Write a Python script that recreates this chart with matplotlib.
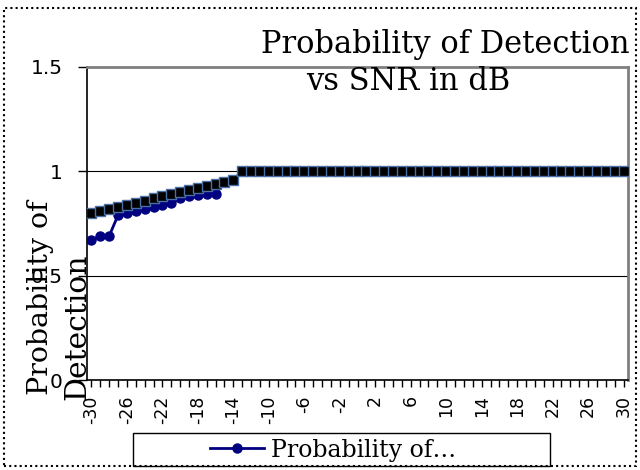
import numpy as np
import matplotlib
matplotlib.use("Agg")
import matplotlib.pyplot as plt
from matplotlib.patches import Rectangle

# ---------- data ----------
snr_db = list(range(-30, 31))
tick_labels = [str(v) for v in range(-30, 31, 4)]

pd_measured = [0.67, 0.69, 0.69, 0.79, 0.80, 0.81, 0.82, 0.83, 0.84, 0.85,
               0.87, 0.88, 0.885, 0.89, 0.89, 0.95, 0.96] + [1.0] * 44
pd_theory = [0.80, 0.81, 0.82, 0.83, 0.84, 0.85, 0.86, 0.87, 0.88, 0.89,
             0.90, 0.91, 0.92, 0.93, 0.94, 0.95, 0.96] + [1.0] * 44

serif = "DejaVu Serif"
sans = "DejaVu Sans"
W, H = 640, 470

fig = plt.figure(figsize=(6.4, 4.7), dpi=100)
ax = fig.add_axes([87 / W, 1 - 380 / H, (628 - 87) / W, (380 - 67) / H])

x = np.arange(len(snr_db))
ax.plot(x, pd_measured, color="#000080", lw=2, marker="o", ms=6.5,
        label="Probability of…", zorder=3)
ax.plot(x, pd_theory, color="#000080", lw=1.5, marker="s", ms=7,
        markerfacecolor="black", markeredgecolor="#4a6fa5", mew=1,
        zorder=4)

ax.set_xlim(-0.5, len(snr_db) - 0.5)
ax.set_ylim(0, 1.5)
ax.set_yticks([0, 0.5, 1, 1.5])
ax.set_yticklabels(["0", "0.5", "1", "1.5"], fontfamily=sans, fontsize=14.5)
ax.set_xticks(x[::4])
ax.set_xticklabels(tick_labels, rotation=90, fontfamily=sans, fontsize=12.5)
ax.set_xticks(x, minor=True)
ax.tick_params(axis="x", which="both", direction="out", length=5, width=1,
               pad=6)
ax.tick_params(axis="y", direction="out", length=6.5, width=1, pad=11)

ax.yaxis.grid(True, color="black", lw=0.8)
ax.set_axisbelow(True)
for side in ["top", "right"]:
    ax.spines[side].set_color("#808080")
    ax.spines[side].set_linewidth(2)
ax.spines["left"].set_linewidth(1.2)
ax.spines["bottom"].set_linewidth(1.2)

# axis title, two lines, bottom aligned like the original
fig.text(41 / W, 1 - 395 / H, "Probability of", fontfamily=serif,
         fontsize=20.5, rotation=90, ha="center", va="bottom")
fig.text(77 / W, 1 - 400 / H, "Detection", fontfamily=serif,
         fontsize=21.5, rotation=90, ha="center", va="bottom")

fig.text(445 / W, 1 - 45 / H, "Probability of Detection", fontfamily=serif,
         fontsize=22, ha="center", va="center")
fig.text(408 / W, 1 - 82 / H, "vs SNR in dB", fontfamily=serif,
         fontsize=22, ha="center", va="center")

leg = fig.legend(loc="center", bbox_to_anchor=(333 / W, 1 - 450 / H),
                 prop={"family": serif, "size": 17}, frameon=False,
                 handlelength=2.3, handletextpad=0.3, borderaxespad=0)
fig.patches.append(Rectangle((133 / W, 1 - 466 / H), (550 - 133) / W,
                             (466 - 433) / H, transform=fig.transFigure,
                             fill=False, lw=1, ec="black"))

# dotted chart border
fig.patches.append(Rectangle((4 / W, 4 / H), 632 / W, (466 - 8) / H,
                             transform=fig.transFigure, fill=False,
                             ls=(0, (1, 1.5)), lw=1.5, ec="black"))

plt.savefig("out.png", dpi=100)
plt.close()
